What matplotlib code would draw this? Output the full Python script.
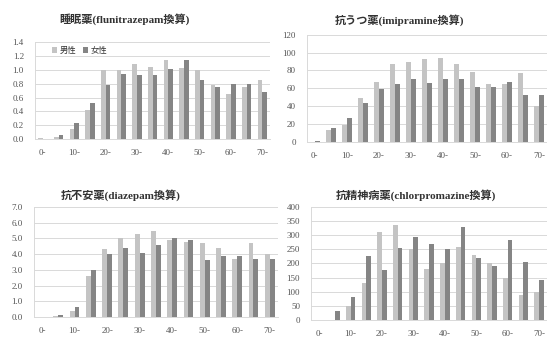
import numpy as np
import matplotlib
matplotlib.use('Agg')
import matplotlib.pyplot as plt

plt.rcParams['font.family'] = ['Liberation Serif', 'Noto Sans CJK JP', 'DejaVu Sans']

ages = ['0-', '5-', '10-', '15-', '20-', '25-', '30-', '35-', '40-', '45-',
        '50-', '55-', '60-', '65-', '70-']

# 睡眠薬 (flunitrazepam換算)
hyp_male = [0.01, 0.03, 0.15, 0.42, 1.00, 1.00, 1.08, 1.04, 1.15, 1.03, 1.00, 0.78, 0.65, 0.76, 0.85]
hyp_female = [0.00, 0.06, 0.24, 0.52, 0.78, 0.94, 0.92, 0.92, 1.02, 1.15, 0.86, 0.75, 0.79, 0.79, 0.68]

# 抗うつ薬 (imipramine換算)
dep_male = [0, 13, 19, 49, 67, 87, 89, 93, 94, 87, 78, 65, 65, 77, 40]
dep_female = [0.5, 16, 27, 44, 59, 65, 70, 66, 70, 71, 61, 61, 67, 53, 52]

# 抗不安薬 (diazepam換算)
anx_male = [0.0, 0.05, 0.4, 2.6, 4.3, 5.0, 5.3, 5.5, 4.9, 4.8, 4.7, 4.4, 3.7, 4.7, 4.0]
anx_female = [0.0, 0.12, 0.65, 3.0, 4.0, 4.4, 4.1, 4.6, 5.0, 4.9, 3.6, 3.9, 3.9, 3.7, 3.7]

# 抗精神病薬 (chlorpromazine換算)
psy_male = [0, 0, 48, 130, 310, 335, 250, 180, 200, 258, 230, 200, 148, 88, 100]
psy_female = [0, 30, 82, 228, 175, 255, 295, 270, 252, 328, 220, 192, 283, 205, 142]

MALE_C = '#c4c4c4'
FEMALE_C = '#858585'
TXT = '#555555'

panels = [
    dict(rect=[0.064, 0.592, 0.430, 0.284], male=hyp_male, female=hyp_female,
         ylim=1.4, step=0.2, fmt='{:.1f}', title='睡眠薬(flunitrazepam換算)',
         tpos=(0.227, 0.944), legend=True),
    dict(rect=[0.561, 0.584, 0.439, 0.314], male=dep_male, female=dep_female,
         ylim=120, step=20, fmt='{:.0f}', title='抗うつ薬(imipramine換算)',
         tpos=(0.730, 0.941), legend=False),
    dict(rect=[0.062, 0.070, 0.446, 0.323], male=anx_male, female=anx_female,
         ylim=7.0, step=1.0, fmt='{:.1f}', title='抗不安薬(diazepam換算)',
         tpos=(0.221, 0.428), legend=False),
    dict(rect=[0.569, 0.062, 0.431, 0.331], male=psy_male, female=psy_female,
         ylim=400, step=50, fmt='{:.0f}', title='抗精神病薬(chlorpromazine換算)',
         tpos=(0.760, 0.428), legend=False),
]

fig = plt.figure(figsize=(5.47, 3.41), dpi=100)
x = np.arange(len(ages))
w = 0.3

for p in panels:
    ax = fig.add_axes(p['rect'])
    ax.bar(x - w / 2, p['male'], w, color=MALE_C, label='男性', zorder=3)
    ax.bar(x + w / 2, p['female'], w, color=FEMALE_C, label='女性', zorder=3)
    ax.set_xlim(-0.5, len(ages) - 0.5)
    ax.set_ylim(0, p['ylim'])
    yt = np.arange(0, p['ylim'] + p['step'] / 2, p['step'])
    ax.set_yticks(yt)
    ax.set_yticklabels([p['fmt'].format(v) for v in yt])
    ax.set_xticks(x[::2])
    ax.set_xticklabels(ages[::2])
    ax.yaxis.grid(True, color='#d9d9d9', linewidth=0.7, zorder=0)
    ax.set_axisbelow(True)
    for s in ['top', 'right']:
        ax.spines[s].set_visible(False)
    for s in ['left', 'bottom']:
        ax.spines[s].set_color('#d9d9d9')
        ax.spines[s].set_linewidth(0.7)
    ax.tick_params(axis='both', length=0, labelsize=6.5, colors=TXT)
    ax.tick_params(axis='y', pad=8)
    ax.tick_params(axis='x', pad=7)
    fig.text(p['tpos'][0], p['tpos'][1], p['title'], ha='center', va='center',
             fontsize=8, color='#333333', fontweight='bold')
    if p['legend']:
        ax.legend(loc='upper left', bbox_to_anchor=(0.04, 1.03), ncol=2, frameon=False,
                  fontsize=6, handlelength=0.6, handleheight=0.6, handletextpad=0.3,
                  columnspacing=0.8, labelcolor='#333333')

fig.savefig('out.png', dpi=100)
